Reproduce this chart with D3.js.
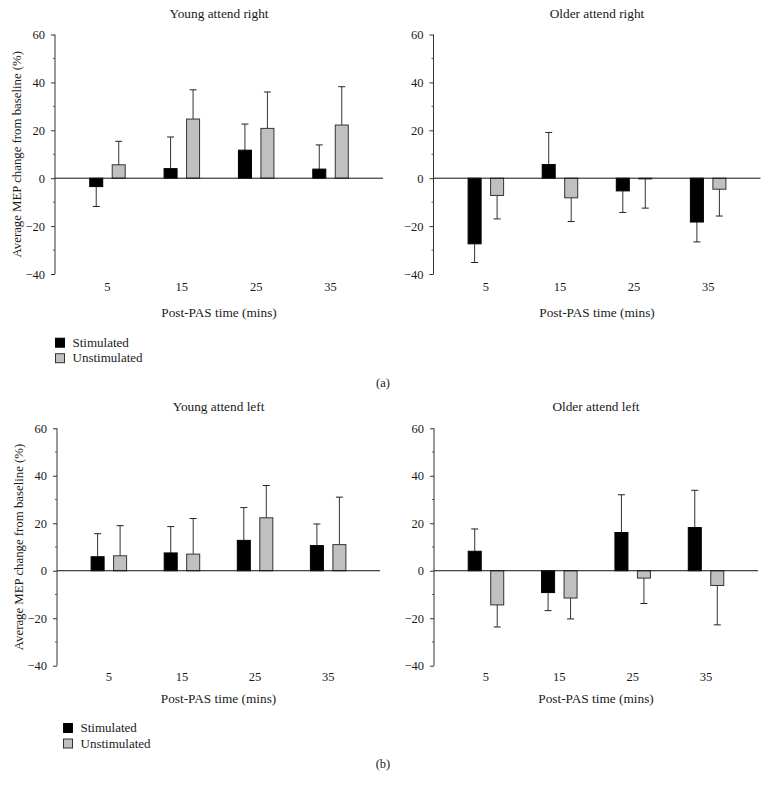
<!DOCTYPE html>
<html>
<head>
<meta charset="utf-8">
<script src="https://cdn.jsdelivr.net/npm/d3@7"></script>
<style>
  html, body { margin: 0; padding: 0; background: #fff; }
  svg { display: block; font-family: "Liberation Serif", "DejaVu Serif", serif; }
</style>
</head>
<body>
<svg id="chart" width="769" height="797"></svg>
<script>
// ---- data ----
const times = ["5", "15", "25", "35"];
const seriesNames = ["Stimulated", "Unstimulated"];
const yTicks = [-40, -20, 0, 20, 40, 60];
const yMinorTicks = [-30, -10, 10, 30, 50];

const youngRightStim = [-3.5, 4.0, 11.7, 3.8];
const youngRightStimErr = [8.3, 13.2, 10.9, 10.1];
const youngRightUnstim = [5.6, 24.7, 20.8, 22.2];
const youngRightUnstimErr = [9.8, 12.2, 15.2, 16.0];

const olderRightStim = [-27.4, 5.7, -5.3, -18.3];
const olderRightStimErr = [7.8, 13.4, 9.0, 8.3];
const olderRightUnstim = [-7.2, -8.2, -0.3, -4.6];
const olderRightUnstimErr = [9.8, 9.9, 12.2, 11.2];

const youngLeftStim = [5.9, 7.5, 12.8, 10.6];
const youngLeftStimErr = [9.7, 11.1, 13.8, 9.1];
const youngLeftUnstim = [6.3, 7.0, 22.3, 11.0];
const youngLeftUnstimErr = [12.7, 15.0, 13.6, 20.0];

const olderLeftStim = [8.2, -9.2, 16.1, 18.2];
const olderLeftStimErr = [9.4, 7.6, 15.9, 15.7];
const olderLeftUnstim = [-14.4, -11.5, -3.1, -6.2];
const olderLeftUnstimErr = [9.3, 8.8, 10.7, 16.6];

const titles = ["Young attend right", "Older attend right", "Young attend left", "Older attend left"];
const xTitle = "Post-PAS time (mins)";
const yTitle = "Average MEP change from baseline (%)";

// ---- layout ----
const svg = d3.select("#chart");
const fillColors = { Stimulated: "#000000", Unstimulated: "#c0c0c0" };
const strokeColors = { Stimulated: "#000000", Unstimulated: "#333333" };

const panels = [
  { title: titles[0], x0: 55, x1: 383, yTop: 34.5, yBot: 274, stim: youngRightStim, stimErr: youngRightStimErr, un: youngRightUnstim, unErr: youngRightUnstimErr, yLabel: true, tickDy: 13, xTitleDy: 39 },
  { title: titles[1], x0: 433.5, x1: 760.5, yTop: 34.5, yBot: 274, stim: olderRightStim, stimErr: olderRightStimErr, un: olderRightUnstim, unErr: olderRightUnstimErr, yLabel: false, tickDy: 13, xTitleDy: 39 },
  { title: titles[2], x0: 57, x1: 380, yTop: 428.3, yBot: 665.7, stim: youngLeftStim, stimErr: youngLeftStimErr, un: youngLeftUnstim, unErr: youngLeftUnstimErr, yLabel: true, tickDy: 11.5, xTitleDy: 33.5 },
  { title: titles[3], x0: 434, x1: 758, yTop: 428.3, yBot: 665.7, stim: olderLeftStim, stimErr: olderLeftStimErr, un: olderLeftUnstim, unErr: olderLeftUnstimErr, yLabel: false, tickDy: 11.5, xTitleDy: 33.5 }
];

panels.forEach(p => {
  const g = svg.append("g");
  const y = d3.scaleLinear().domain([-40, 60]).range([p.yBot, p.yTop]);
  const inset = 15.3;
  const x = d3.scaleBand().domain(times).range([p.x0 + inset, p.x1 - inset]).padding(0);
  const half = 18.25;
  const xs = d3.scaleBand().domain(seriesNames).range([-half, half]).paddingInner(0.377).paddingOuter(0);

  // title
  g.append("text")
    .attr("x", (p.x0 + p.x1) / 2)
    .attr("y", p.yTop - 17)
    .attr("text-anchor", "middle")
    .attr("font-size", 13.3)
    .attr("fill", "#1a1a1a")
    .text(p.title);

  // y axis
  const yAxis = d3.axisLeft(y).tickValues(yTicks).tickSize(4).tickPadding(6).tickFormat(d3.format("d"));
  const ya = g.append("g").attr("transform", `translate(${p.x0},0)`).call(yAxis);
  ya.select(".domain").attr("stroke", "#333").attr("d", `M0,${p.yTop}V${p.yBot}`);
  ya.selectAll(".tick line").attr("stroke", "#333");
  ya.selectAll(".tick text").attr("font-size", 12.5).attr("font-family", "Liberation Serif, DejaVu Serif, serif").attr("fill", "#1a1a1a");
  g.append("g").selectAll("line").data(yMinorTicks).join("line")
    .attr("x1", p.x0 - 2).attr("x2", p.x0)
    .attr("y1", d => y(d)).attr("y2", d => y(d))
    .attr("stroke", "#555");

  // x tick labels at bottom
  g.append("g").selectAll("text").data(times).join("text")
    .attr("x", d => x(d) + x.bandwidth() / 2)
    .attr("y", p.yBot + p.tickDy + 4)
    .attr("text-anchor", "middle")
    .attr("font-size", 12.5)
    .attr("fill", "#1a1a1a")
    .text(d => d);

  // x title
  g.append("text")
    .attr("x", (p.x0 + p.x1) / 2)
    .attr("y", p.yBot + p.xTitleDy + 4)
    .attr("text-anchor", "middle")
    .attr("font-size", 13.3)
    .attr("fill", "#1a1a1a")
    .text(xTitle);

  // y title
  if (p.yLabel) {
    const cy = (p.yTop + p.yBot) / 2;
    g.append("text")
      .attr("transform", `translate(${p.x0 - 34},${cy}) rotate(-90)`)
      .attr("text-anchor", "middle")
      .attr("font-size", 12.8)
      .attr("fill", "#1a1a1a")
      .text(yTitle);
  }

  const rows = [];
  times.forEach((t, i) => {
    rows.push({ t, s: "Stimulated", v: p.stim[i], e: p.stimErr[i] });
    rows.push({ t, s: "Unstimulated", v: p.un[i], e: p.unErr[i] });
  });
  const cx = d => x(d.t) + x.bandwidth() / 2 + xs(d.s) + xs.bandwidth() / 2;

  // error bars (one-sided, outward)
  const eg = g.append("g");
  rows.forEach(d => {
    const dir = d.v >= 0 ? 1 : -1;
    const end = d.v + dir * d.e;
    eg.append("line")
      .attr("x1", cx(d)).attr("x2", cx(d))
      .attr("y1", y(d.v)).attr("y2", y(end))
      .attr("stroke", "#333").attr("stroke-width", 1);
    eg.append("line")
      .attr("x1", cx(d) - 3.5).attr("x2", cx(d) + 3.5)
      .attr("y1", y(end)).attr("y2", y(end))
      .attr("stroke", "#222").attr("stroke-width", 1);
  });

  // bars
  g.append("g").selectAll("rect").data(rows).join("rect")
    .attr("x", d => x(d.t) + x.bandwidth() / 2 + xs(d.s) + 0.5)
    .attr("width", xs.bandwidth() - 1)
    .attr("y", d => Math.min(y(d.v), y(0)))
    .attr("height", d => Math.abs(y(d.v) - y(0)))
    .attr("fill", d => fillColors[d.s])
    .attr("stroke", d => strokeColors[d.s])
    .attr("stroke-width", 1);

  // zero line
  g.append("line")
    .attr("x1", p.x0).attr("x2", p.x1)
    .attr("y1", y(0)).attr("y2", y(0))
    .attr("stroke", "#111").attr("stroke-width", 1);
});

// ---- legends ----
const legends = [
  { x: 55, y: 337.7, label: "(a)", ly: 387 },
  { x: 63, y: 723, label: "(b)", ly: 768 }
];
legends.forEach(L => {
  const lg = svg.append("g");
  seriesNames.forEach((s, i) => {
    lg.append("rect")
      .attr("x", L.x + 0.5).attr("y", L.y + i * 15.5 + 0.5)
      .attr("width", 9).attr("height", 9)
      .attr("fill", fillColors[s]).attr("stroke", strokeColors[s]);
    lg.append("text")
      .attr("x", L.x + 17.5).attr("y", L.y + i * 15.5 + 9)
      .attr("font-size", 13)
      .attr("fill", "#1a1a1a")
      .text(s);
  });
  svg.append("text")
    .attr("x", 383).attr("y", L.ly)
    .attr("text-anchor", "middle")
    .attr("font-size", 12.5)
    .attr("fill", "#1a1a1a")
    .text(L.label);
});
</script>
</body>
</html>
